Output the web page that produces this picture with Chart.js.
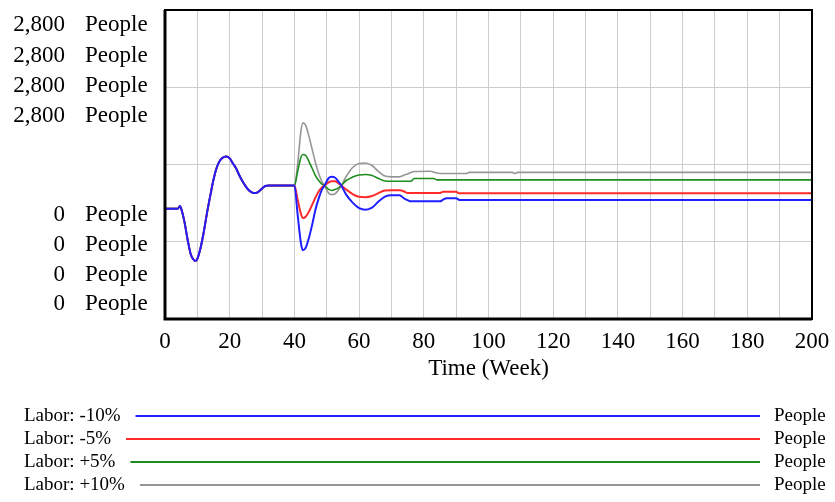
<!DOCTYPE html>
<html><head><meta charset="utf-8">
<script src="https://cdn.jsdelivr.net/npm/chart.js@4"></script>
<style>html,body{margin:0;padding:0;background:#fff}#wrap{width:835px;height:502px}</style>
</head><body><div id="wrap"><canvas id="c" width="835" height="502"></canvas></div>
<script>
// Time (Week)
const timeWeeks = [0,4,4.6,5,6,7,8,9,9.5,10,11,12,13,14,15,16,17,18,19,20,21,22,23,24,25,26,27,28,29,30,31,32,40,
  41,42,42.6,43.5,44.5,45.5,46.5,47.5,48.5,49.3,50.5,51.5,52.5,53.5,54.5,56,58,60,62,64,66,68,70,72.5,74,75,76,77,82,83,84,85,86,87,90,91,93,94,107.5,108,109,200];

const laborMinus10 = [1000,1000,1023,1000,882,718,582,532,527,545,645,791,964,1118,1264,1373,1436,1464,1473,1455,1409,1364,1300,1245,1200,1164,1145,1141,1155,1182,1205,1209,1209,
  945,691,623,645,736,855,991,1091,1173,1209,1273,1288,1282,1250,1209,1127,1055,1005,991,1009,1064,1109,1121,1121,1091,1077,1066,1066,1066,1066,1066,1066,1082,1094,1094,1079,1079,1079,1079,1079,1079,1079];

const laborMinus5 = [1000,1000,1023,1000,882,718,582,532,527,545,645,791,964,1118,1264,1373,1436,1464,1473,1455,1409,1364,1300,1245,1200,1164,1145,1141,1155,1182,1205,1209,1209,
  1082,955,915,927,973,1036,1100,1155,1191,1209,1236,1248,1248,1232,1209,1173,1132,1107,1103,1114,1141,1164,1166,1166,1155,1141,1141,1141,1141,1141,1141,1141,1152,1152,1152,1139,1139,1139,1139,1139,1139,1139];

const laborPlus5 = [1000,1000,1023,1000,882,718,582,532,527,545,645,791,964,1118,1264,1373,1436,1464,1473,1455,1409,1364,1300,1245,1200,1164,1145,1141,1155,1182,1205,1209,1209,
  1336,1464,1491,1482,1427,1364,1300,1255,1223,1209,1177,1165,1173,1186,1209,1255,1286,1305,1309,1300,1273,1250,1248,1248,1248,1248,1248,1273,1273,1273,1261,1261,1261,1261,1261,1261,1261,1261,1261,1261,1261,1261];

const laborPlus10 = [1000,1000,1023,1000,882,718,582,532,527,545,645,791,964,1118,1264,1373,1436,1464,1473,1455,1409,1364,1300,1245,1200,1164,1145,1141,1155,1182,1205,1209,1209,
  1400,1700,1777,1755,1655,1536,1418,1318,1245,1209,1145,1127,1132,1164,1209,1291,1373,1409,1414,1391,1336,1295,1288,1288,1305,1314,1327,1336,1339,1332,1323,1318,1318,1318,1318,1318,1318,1329,1329,1318,1329,1329];

const seriesNames = ['Labor: -10%','Labor: -5%','Labor: +5%','Labor: +10%'];
const seriesUnit = 'People';
const seriesColors = ['#1f1fff','#ff2a2a','#1e8c1e','#969696'];
const xTickLabels = [0,20,40,60,80,100,120,140,160,180,200];
const yTopLabels = ['2,800','2,800','2,800','2,800'];
const yBottomLabels = ['0','0','0','0'];
const xTitle = 'Time (Week)';

const FONT = "'Liberation Serif','Times New Roman',serif";

function mk(arr){ return timeWeeks.map((t,i)=>({x:t,y:arr[i]})); }
const allSeries = [laborMinus10, laborMinus5, laborPlus5, laborPlus10];
const widths = [2,2,1.6,1.6];

const decor = {
  id:'decor',
  afterDatasetsDraw(chart){
    const {ctx, chartArea:a} = chart;
    ctx.save();
    ctx.strokeStyle = '#000';
    ctx.lineWidth = 2;
    ctx.strokeRect(a.left, a.top, a.right - a.left, a.bottom - a.top);
    ctx.lineWidth = 3;
    ctx.beginPath();
    ctx.moveTo(a.left, a.top); ctx.lineTo(a.left, a.bottom); ctx.lineTo(a.right, a.bottom);
    ctx.stroke();
    ctx.restore();
  },
  afterDraw(chart){
    const {ctx, chartArea:a} = chart;
    ctx.save();
    ctx.fillStyle = '#000';
    ctx.font = "23px " + FONT;
    ctx.textBaseline = 'middle';
    const topY = [25,56,86,115.5];
    const botY = [215,245,274.5,303.5];
    topY.forEach((y,i)=>{
      ctx.textAlign='right'; ctx.fillText(yTopLabels[i], 65, y);
      ctx.textAlign='left'; ctx.fillText(seriesUnit, 85, y);
    });
    botY.forEach((y,i)=>{
      ctx.textAlign='right'; ctx.fillText(yBottomLabels[i], 65, y);
      ctx.textAlign='left'; ctx.fillText(seriesUnit, 85, y);
    });
    // x title
    ctx.textAlign='center';
    ctx.fillText(xTitle, (a.left + a.right)/2, 369);
    // legend
    ctx.font = "19px " + FONT;
    const rows = [416,439,462,485];
    rows.forEach((y,i)=>{
      ctx.textAlign='left';
      ctx.fillStyle='#000';
      ctx.fillText(seriesNames[i], 24, y);
      const w = ctx.measureText(seriesNames[i]).width;
      ctx.beginPath();
      ctx.strokeStyle = seriesColors[i];
      ctx.lineWidth = 2;
      ctx.moveTo(24 + w + 15, y);
      ctx.lineTo(760, y);
      ctx.stroke();
      ctx.fillText(seriesUnit, 774, y);
    });
    ctx.restore();
  }
};

new Chart(document.getElementById('c'), {
  type:'line',
  data:{
    datasets: allSeries.map((s,i)=>({
      label: seriesNames[i],
      data: mk(s),
      borderColor: seriesColors[i],
      borderWidth: widths[i],
      pointRadius: 0,
      fill:false,
      cubicInterpolationMode:'monotone'
    }))
  },
  options:{
    responsive:false,
    animation:false,
    devicePixelRatio:1,
    layout:{padding:{top:10,right:23,left:0,bottom:0}},
    plugins:{legend:{display:false},tooltip:{enabled:false}},
    scales:{
      x:{
        type:'linear', min:0, max:200,
        afterBuildTicks(s){ s.ticks = []; for(let v=0; v<=200; v+=10) s.ticks.push({value:v}); },
        ticks:{
          autoSkip:false, maxRotation:0, padding:9,
          color:'#000',
          font:{family:FONT, size:23},
          callback:(v)=> xTickLabels.includes(v) ? String(v) : ''
        },
        grid:{color:'#cdcdcd', lineWidth:1, drawTicks:false},
        border:{display:false},
        afterFit(s){ s.height = 183; s.paddingLeft = 0; s.paddingRight = 0; }
      },
      y:{
        min:0, max:2800,
        ticks:{display:false, stepSize:700},
        grid:{color:'#cdcdcd', lineWidth:1, drawTicks:false},
        border:{display:false},
        afterFit(s){ s.width = 165; }
      }
    }
  },
  plugins:[decor]
});
</script>
</body></html>
